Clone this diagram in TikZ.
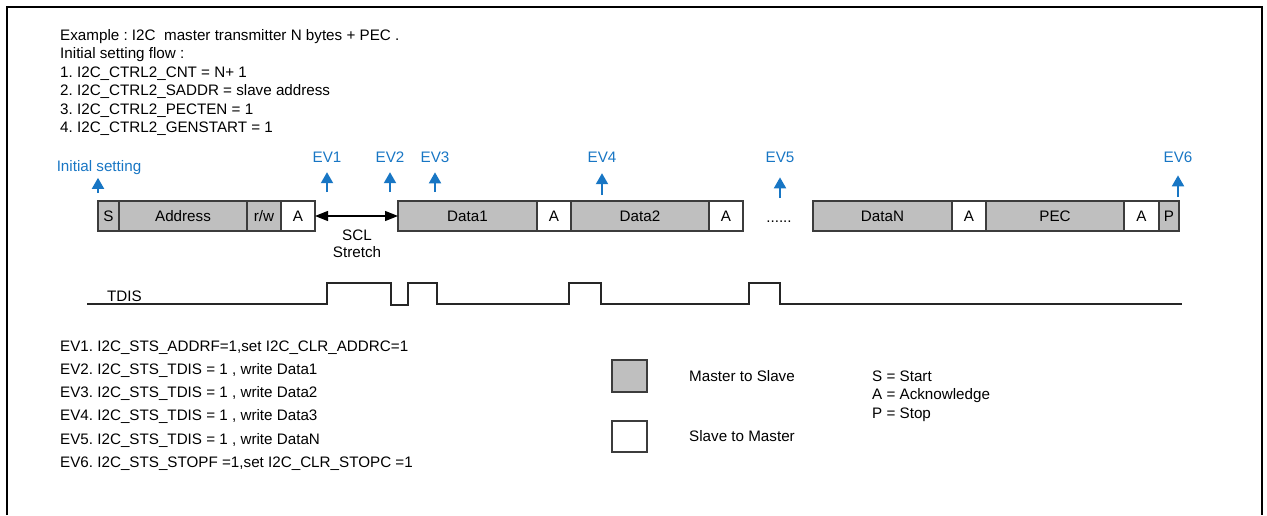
\documentclass[tikz,border=0pt]{standalone}
\usepackage{fontspec}
\setmainfont{Liberation Sans}
\usetikzlibrary{arrows.meta,positioning}
\definecolor{evblue}{RGB}{24,118,196}
\definecolor{pktgray}{RGB}{191,191,191}
\definecolor{pktline}{RGB}{60,60,60}
\newcommand{\pktfont}{\fontsize{15.2}{17.4}\selectfont}
\frenchspacing
\tikzset{
  pkt/.style    ={draw=pktline, line width=1.1pt, minimum height=30pt,
                  inner sep=0pt, outer sep=0pt, font=\pktfont},
  pktm/.style   ={pkt, fill=pktgray},
  pkts/.style   ={pkt, fill=white},
  evlab/.style  ={text=evblue, inner sep=0pt, anchor=base, font=\pktfont},
  evar/.style   ={-{Triangle[length=11pt,width=12pt]}, line width=2pt, evblue},
  txt/.style    ={anchor=west, inner sep=0pt, font=\pktfont},
  stretchar/.style={{Triangle[length=13pt,width=10pt]}-{Triangle[length=13pt,width=10pt]},
                  line width=1.3pt},
  wave/.style   ={line width=1.3pt, black!85, line join=miter},
}

\begin{document}
\begin{tikzpicture}[x=1pt, y=-1pt]
\useasboundingbox (0,0) rectangle (1267,515);

% outer frame (open at the bottom)
\draw[line width=2pt] (7,515) -- (7,7) -- (1262,7) -- (1262,515);

% setting flow
\node[txt, align=left, anchor=north west, font=\fontsize{15.2}{18.4}\selectfont] (setup)
  at (60,29.3) {Example : I2C~ master transmitter N bytes + PEC .\\
                Initial setting flow :\\
                1. I2C\_CTRL2\_CNT = N+ 1\\
                2. I2C\_CTRL2\_SADDR = slave address\\
                3. I2C\_CTRL2\_PECTEN = 1\\
                4. I2C\_CTRL2\_GENSTART = 1};

% address frame
\node[pktm, minimum width=21pt, anchor=west] (s) at (98,216) {S};
\node[pktm, minimum width=128pt, right=0pt of s] (addr) {Address};
\node[pktm, minimum width=34pt, right=0pt of addr] (rw) {r/w};
\node[pkts, minimum width=34pt, right=0pt of rw] (ack0) {A};

% data bytes
\node[pktm, minimum width=139pt, anchor=west] (d1) at (398,216) {Data1};
\node[pkts, minimum width=34pt, right=0pt of d1] (ack1) {A};
\node[pktm, minimum width=138pt, right=0pt of ack1] (d2) {Data2};
\node[pkts, minimum width=34pt, right=0pt of d2] (ack2) {A};
\node[inner sep=0pt, font=\pktfont, anchor=base] (dots) at (779,222) {......};

\node[pktm, minimum width=139pt, anchor=west] (dn) at (813,216) {DataN};
\node[pkts, minimum width=34pt, right=0pt of dn] (ackn) {A};
\node[pktm, minimum width=138pt, right=0pt of ackn] (pec) {PEC};
\node[pkts, minimum width=35pt, right=0pt of pec] (ackp) {A};
\node[pktm, minimum width=20pt, right=0pt of ackp] (p) {P};

% clock stretching
\draw[stretchar] (ack0) -- (d1);
\node[inner sep=0pt, align=center, font=\pktfont] (scl) at (357,244) {SCL\\Stretch};

% event markers
\node[evlab] (init) at (99,171) {Initial setting};
\node[evlab] (ev1) at (327,162.5) {EV1};
\node[evlab] (ev2) at (390,162.5) {EV2};
\node[evlab] (ev3) at (435,162.5) {EV3};
\node[evlab] (ev4) at (602,162.5) {EV4};
\node[evlab] (ev5) at (780,162.5) {EV5};
\node[evlab] (ev6) at (1178,162.5) {EV6};
\foreach \nm/\xx/\tl/\gap in {init/98/193/3.5, ev1/327/192/9.5, ev2/390/192/9.5,
    ev3/435/192/9.5, ev4/602/195/10.5, ev5/780/198/14.5, ev6/1178/197/12.5} {
  \coordinate (\nm-t) at (\xx,\tl);
  \draw[evar, shorten >=\gap pt] (\nm-t) -- (\nm-t |- \nm.south);
}

% TDIS flag
\node[txt, anchor=base west] (tdis) at (107,301) {TDIS};
\draw[wave] (87,304) -- (327,304) -- (327,283) -- (391,283) -- (391,305)
  -- (408,305) -- (408,283) -- (437,283) -- (437,304) -- (569,304) -- (569,283)
  -- (601,283) -- (601,304) -- (749,304) -- (749,283) -- (780,283) -- (780,304)
  -- (1182,304);

% event list
\node[txt, align=left, anchor=north west, font=\fontsize{15.2}{23.2}\selectfont] (evlist)
  at (60,340.5) {EV1. I2C\_STS\_ADDRF=1,set I2C\_CLR\_ADDRC=1\\
                 EV2. I2C\_STS\_TDIS = 1 , write Data1\\
                 EV3. I2C\_STS\_TDIS = 1 , write Data2\\
                 EV4. I2C\_STS\_TDIS = 1 , write Data3\\
                 EV5. I2C\_STS\_TDIS = 1 , write DataN\\
                 EV6. I2C\_STS\_STOPF =1,set I2C\_CLR\_STOPC =1};

% legend
\node[pktm, minimum width=35pt, minimum height=32pt] (lgm) at (629.5,376) {};
\node[pkts, minimum width=35pt, minimum height=31pt] (lgs) at (629.5,436.5) {};
\node[txt, right=42pt of lgm] (lgmt) {Master to Slave};
\node[txt, right=42pt of lgs] (lgst) {Slave to Master};
\node[txt, align=left, anchor=north west, font=\fontsize{15.2}{18.5}\selectfont] (keys)
  at (872,370.5) {S = Start\\A = Acknowledge\\P = Stop};

\end{tikzpicture}
\end{document}
